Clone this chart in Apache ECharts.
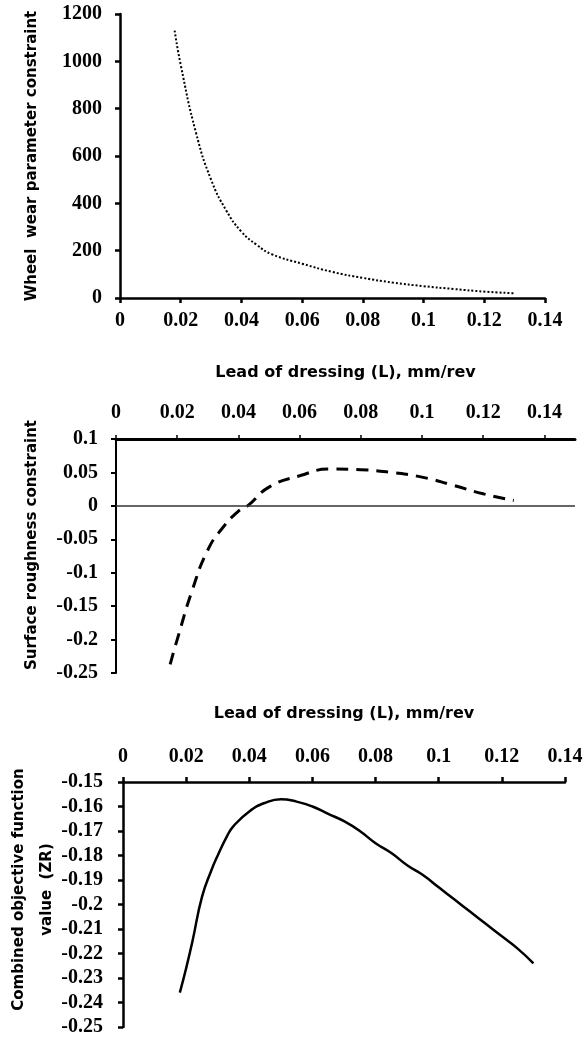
<!DOCTYPE html>
<html>
<head>
<meta charset="utf-8">
<script src="https://cdn.jsdelivr.net/npm/echarts@6/dist/echarts.min.js"></script>
<style>
  html, body { margin: 0; padding: 0; background: #fff; }
  #chart { width: 588px; height: 1038px; }
</style>
</head>
<body>
<div id="chart"></div>
<script>
// lead of dressing L (mm/rev) and readings for each panel
const wearL = [0.018, 0.02, 0.025, 0.03, 0.035, 0.04, 0.045, 0.05, 0.06, 0.07, 0.08, 0.09, 0.1, 0.11, 0.12, 0.13]
const wearVal = [1130, 985, 700, 500, 370, 280, 225, 185, 145, 110, 85, 65, 50, 38, 27, 20]

const roughL = [0.0177, 0.02, 0.025, 0.03, 0.035, 0.04, 0.043, 0.05, 0.06, 0.07, 0.08, 0.09, 0.1, 0.11, 0.12, 0.13]
const roughVal = [-0.237, -0.2, -0.125, -0.066, -0.032, -0.008, 0, 0.028, 0.045, 0.055, 0.054, 0.05, 0.043, 0.031, 0.018, 0.008]

const zrL = [0.018, 0.02, 0.022, 0.025, 0.028, 0.03, 0.033, 0.035, 0.04, 0.045, 0.05, 0.055, 0.06, 0.065, 0.07, 0.075, 0.08, 0.085, 0.09, 0.095, 0.1, 0.105, 0.11, 0.115, 0.12, 0.125, 0.13]
const zrVal = [-0.236, -0.226, -0.215, -0.197, -0.186, -0.18, -0.172, -0.168, -0.162, -0.1585, -0.157, -0.158, -0.16, -0.163, -0.166, -0.17, -0.175, -0.179, -0.184, -0.188, -0.193, -0.198, -0.203, -0.208, -0.213, -0.218, -0.224]

const xTicks = [0, 0.02, 0.04, 0.06, 0.08, 0.1, 0.12, 0.14]
const xName = 'Lead of dressing (L), mm/rev'

const tickFont = { fontFamily: 'Liberation Serif', fontWeight: 'bold', fontSize: 20, color: '#000' }
const xNameFont = { fontFamily: 'DejaVu Sans', fontWeight: 'bold', fontSize: 16, color: '#000' }
const yNameFont = { fontFamily: 'DejaVu Sans', fontWeight: 'bold', fontSize: 15, color: '#000' }

function pairs(xs, ys) {
  return xs.map((x, i) => [x, ys[i]])
}

const chart = echarts.init(document.getElementById('chart'), null, { renderer: 'canvas' })
chart.setOption({
  animation: false,
  backgroundColor: '#fff',
  grid: [
    { left: 120, top: 14, width: 425, height: 284, outerBoundsMode: 'none' },
    { left: 116, top: 439, width: 459, height: 234, outerBoundsMode: 'none' },
    { left: 123, top: 782, width: 442, height: 245, outerBoundsMode: 'none' }
  ],
  xAxis: [
    {
      gridIndex: 0, type: 'value', min: 0, max: 0.14, interval: 0.02,
      axisLine: { onZero: false, lineStyle: { color: '#000', width: 2.5 } },
      axisTick: { length: 5, lineStyle: { color: '#000', width: 2.5 } },
      axisLabel: { ...tickFont, margin: 13 },
      splitLine: { show: false }
    },
    {
      gridIndex: 1, type: 'value', position: 'top', min: 0, max: 0.15,
      name: xName, nameLocation: 'middle', nameGap: 58, nameTextStyle: xNameFont,
      axisLine: { onZero: false, lineStyle: { color: '#000', width: 3 } },
      axisTick: { length: 4, customValues: xTicks, lineStyle: { color: '#000', width: 1.5 } },
      axisLabel: { ...tickFont, margin: 16, customValues: xTicks },
      splitLine: { show: false }
    },
    {
      gridIndex: 2, type: 'value', position: 'top', min: 0, max: 0.14, interval: 0.02,
      name: xName, nameLocation: 'middle', nameGap: 60, nameTextStyle: xNameFont,
      axisLine: { onZero: false, lineStyle: { color: '#000', width: 2.5 } },
      axisTick: { length: 5, lineStyle: { color: '#000', width: 2.5 } },
      axisLabel: { ...tickFont, margin: 15 },
      splitLine: { show: false }
    }
  ],
  yAxis: [
    {
      gridIndex: 0, type: 'value', min: 0, max: 1200, interval: 200,
      name: 'Wheel  wear parameter constraint', nameLocation: 'middle', nameGap: 80, nameTextStyle: yNameFont,
      axisLine: { show: true, lineStyle: { color: '#000', width: 2.5 } },
      axisTick: { show: true, length: 5, lineStyle: { color: '#000', width: 2.5 } },
      axisLabel: { ...tickFont, margin: 18, formatter: v => String(v) },
      splitLine: { show: false }
    },
    {
      gridIndex: 1, type: 'value', min: -0.25, max: 0.1, interval: 0.05,
      name: 'Surface roughness constraint', nameLocation: 'middle', nameGap: 76,
      nameTextStyle: { ...yNameFont, padding: [0, 0, 0, 22] },
      axisLine: { show: true, onZero: false, lineStyle: { color: '#000', width: 2 } },
      axisTick: { show: true, length: 5, lineStyle: { color: '#000', width: 2 } },
      axisLabel: { ...tickFont, margin: 18 },
      splitLine: { show: false }
    },
    {
      gridIndex: 2, type: 'value', min: -0.25, max: -0.15, interval: 0.01,
      name: 'Combined objective function\nvalue  (ZR)', nameLocation: 'middle', nameGap: 62,
      nameMoveOverlap: false,
      nameTextStyle: { ...yNameFont, lineHeight: 28, padding: [0, 0, 0, 30] },
      axisLine: { show: true, onZero: false, lineStyle: { color: '#000', width: 2.5 } },
      axisTick: { show: true, length: 5, lineStyle: { color: '#000', width: 2.5 } },
      axisLabel: { ...tickFont, margin: 20 },
      splitLine: { show: false }
    }
  ],
  series: [
    {
      type: 'line', xAxisIndex: 0, yAxisIndex: 0, smooth: true, symbol: 'none',
      data: pairs(wearL, wearVal),
      lineStyle: { color: '#000', width: 2, type: [2, 2] }
    },
    {
      type: 'line', xAxisIndex: 1, yAxisIndex: 1, smooth: true, symbol: 'none',
      data: pairs(roughL, roughVal),
      lineStyle: { color: '#000', width: 3, type: [12, 8] },
      markLine: {
        silent: true, symbol: 'none', label: { show: false },
        lineStyle: { color: '#333', width: 1.5, type: 'solid' },
        data: [{ yAxis: 0 }]
      }
    },
    {
      type: 'line', xAxisIndex: 2, yAxisIndex: 2, smooth: true, symbol: 'none',
      data: pairs(zrL, zrVal),
      lineStyle: { color: '#000', width: 2.5 }
    }
  ]
})
</script>
</body>
</html>
